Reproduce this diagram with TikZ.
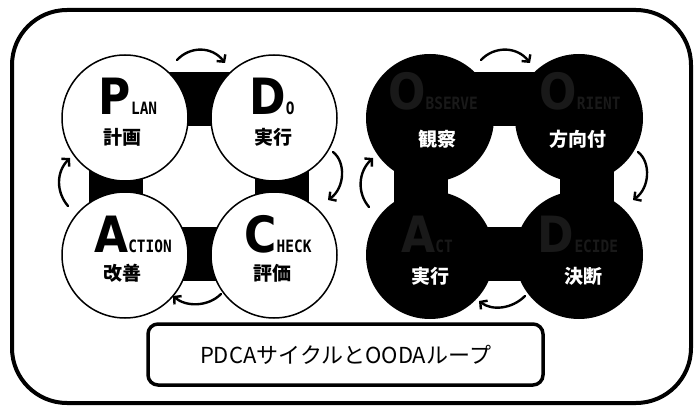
\documentclass[tikz,border=0pt]{standalone}
\usepackage{fontspec}
\usepackage{graphicx}
\usetikzlibrary{arrows.meta}
\newfontfamily\jpfont{Noto Sans CJK JP}
\newfontfamily\bigfont{DejaVu Sans}
\newfontfamily\smfont{DejaVu Sans Mono}
\newcommand\bigL[1]{{\bigfont\bfseries\fontsize{50}{50}\selectfont\scalebox{0.88}[1]{#1}}}
\newcommand\smL[1]{{\smfont\bfseries\fontsize{17}{17}\selectfont\scalebox{0.85}[1]{#1}}}
\begin{document}
\begin{tikzpicture}[x=1pt,y=-1pt,
  pcirc/.style={circle, draw, line width=1.5pt, fill=white, minimum size=126pt, inner sep=0pt},
  ocirc/.style={circle, fill=black, minimum size=128pt, inner sep=0pt},
  blackframe/.style={line width=54pt, line join=miter},
  cyc/.style={line width=2.4pt, line cap=round, -{Straight Barb[length=5pt,width=11pt]}},
  ttl/.style={anchor=base, inner sep=0pt},
  sub/.style={inner sep=0pt, font=\jpfont\bfseries\fontsize{19}{19}\selectfont},
  faint/.style={ttl, text=black!90},
]
\useasboundingbox (0,0) rectangle (697,409);
% outer frame
\draw[line width=4pt, rounded corners=55pt] (12,10) rectangle (691,403);

% ---------- PDCA ----------
\coordinate (pf1) at (116,99);
\coordinate (pf2) at (282,254);
\draw[blackframe] (pf1) rectangle (pf2);
\node[pcirc] (P) at (125,118) {};
\node[pcirc] (D) at (274,118) {};
\node[pcirc] (A) at (125,255) {};
\node[pcirc] (C) at (274,255) {};
\node[ttl] (Pt) at (128,115) {\bigL{P}\smL{LAN}};
\node[ttl] (Dt) at (272,115) {\bigL{D}\smL{O}};
\node[ttl] (At) at (133,252) {\bigL{A}\smL{CTION}};
\node[ttl] (Ct) at (278,252) {\bigL{C}\smL{HECK}};
\node[sub] (Ps) at (122,137) {計画};
\node[sub] (Ds) at (273,137) {実行};
\node[sub] (As) at (122,273) {改善};
\node[sub] (Cs) at (272,273) {評価};
% cycle arrows
\coordinate (pa1) at (177,60);  \coordinate (pa2) at (225,63);
\coordinate (pb1) at (333,152); \coordinate (pb2) at (328,200);
\coordinate (pc1) at (221,294); \coordinate (pc2) at (173,296);
\coordinate (pd1) at (68,206);  \coordinate (pd2) at (70,158);
\draw[cyc] (pa1) .. controls (190,46) and (212,46) .. (pa2);
\draw[cyc] (pb1) .. controls (346,162) and (345,188) .. (pb2);
\draw[cyc] (pc1) .. controls (208,307) and (186,307) .. (pc2);
\draw[cyc] (pd1) .. controls (56,192) and (56,172) .. (pd2);

% ---------- OODA ----------
\coordinate (of1) at (421,99);
\coordinate (of2) at (587,254);
\draw[blackframe] (of1) rectangle (of2);
\node[ocirc] (O1) at (430,118) {};
\node[ocirc] (O2) at (579,118) {};
\node[ocirc] (O4) at (430,255) {};
\node[ocirc] (O3) at (579,255) {};
\node[faint] (O1t) at (433,110) {\bigL{O}\smL{BSERVE}};
\node[faint] (O2t) at (580,110) {\bigL{O}\smL{RIENT}};
\node[faint] (O4t) at (427,252) {\bigL{A}\smL{CT}};
\node[faint] (O3t) at (578,252) {\bigL{D}\smL{ECIDE}};
\node[sub, text=white] (O1s) at (437,139) {観察};
\node[sub, text=white] (O2s) at (578,139) {方向付};
\node[sub, text=white] (O4s) at (430,276) {実行};
\node[sub, text=white] (O3s) at (583,276) {決断};
\coordinate (oa1) at (481,60);  \coordinate (oa2) at (530,63);
\coordinate (ob1) at (638,152); \coordinate (ob2) at (633,200);
\coordinate (oc1) at (525,296); \coordinate (oc2) at (479,301);
\coordinate (od1) at (369,207); \coordinate (od2) at (373,158);
\draw[cyc] (oa1) .. controls (494,46) and (517,46) .. (oa2);
\draw[cyc] (ob1) .. controls (651,162) and (650,188) .. (ob2);
\draw[cyc] (oc1) .. controls (512,309) and (492,311) .. (oc2);
\draw[cyc] (od1) .. controls (357,193) and (358,172) .. (od2);

% ---------- label ----------
\node[draw, line width=3.5pt, rounded corners=10pt, minimum width=395pt, minimum height=61pt,
      font=\jpfont\fontsize{22}{22}\selectfont] (lbl) at (345.5,354.5) {PDCAサイクルとOODAループ};
\end{tikzpicture}
\end{document}
